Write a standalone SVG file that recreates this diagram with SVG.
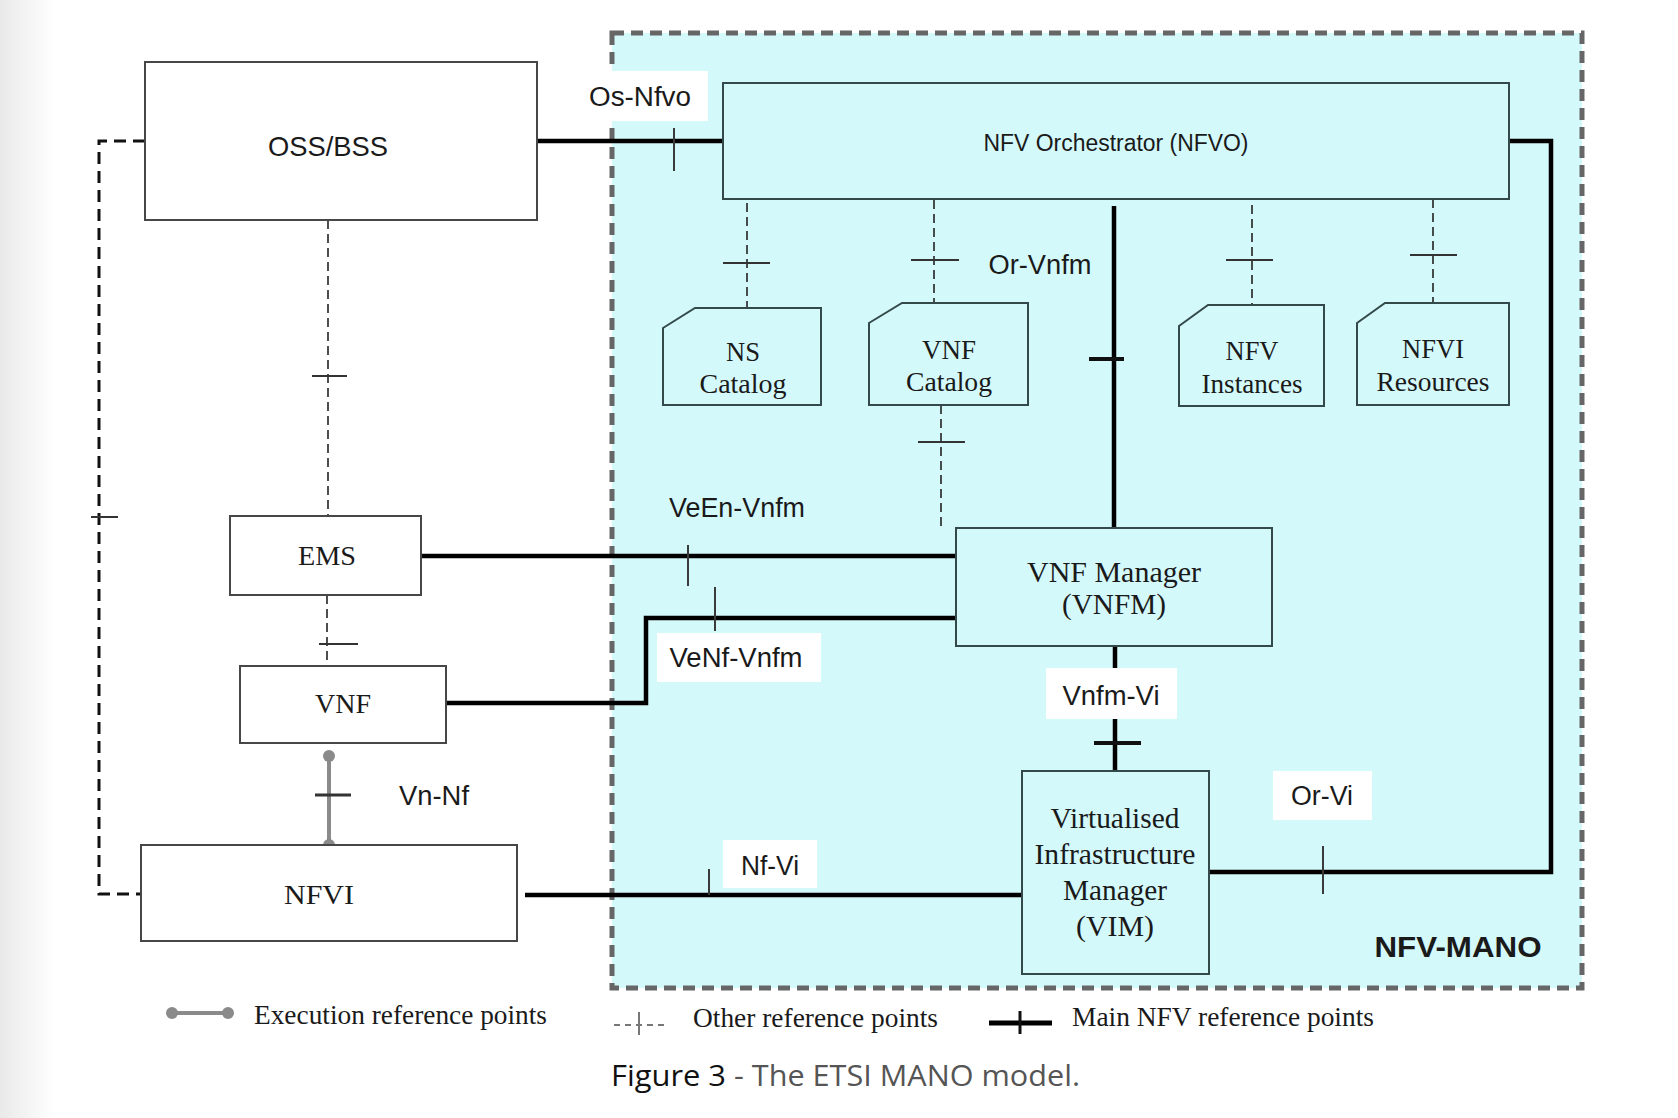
<svg xmlns="http://www.w3.org/2000/svg" width="1678" height="1118" viewBox="0 0 1678 1118">
<style>
.sans{font-family:"Liberation Sans",Arial,sans-serif;fill:#1a1a1a}
.serif{font-family:"Liberation Serif","Times New Roman",serif;fill:#1a1a1a}
.lbl{font-size:27px;text-anchor:middle}
.box{fill:#ffffff;stroke:#474747;stroke-width:2}
.mbox{fill:#d4f9fa;stroke:#34494a;stroke-width:2}
.main{fill:none;stroke:#000;stroke-width:4.5}
.tick{stroke:#3a3a3a;stroke-width:2}
.other{fill:none;stroke:#222;stroke-width:1.6;stroke-dasharray:9 5}
.otick{stroke:#333;stroke-width:2}
.bg{fill:#ffffff}
.cap{font-family:"Open Sans","Noto Sans",sans-serif;font-size:29px}
</style>
<defs>
<linearGradient id="edge" x1="0" y1="0" x2="1" y2="0">
<stop offset="0" stop-color="#e9e9e9"/>
<stop offset="1" stop-color="#ffffff"/>
</linearGradient>
</defs>
<rect x="0" y="0" width="1678" height="1118" fill="#ffffff"/>
<rect x="0" y="0" width="55" height="1118" fill="url(#edge)"/>

<g id="nfv-mano">
<rect x="612" y="33" width="970" height="955" fill="#d4f9fa" stroke="#666" stroke-width="5" stroke-dasharray="12 7"/>
<text class="sans" x="1458" y="957" font-size="30" font-weight="bold" text-anchor="middle" textLength="167" lengthAdjust="spacingAndGlyphs">NFV-MANO</text>
</g>

<g id="connectors">
<!-- OSS left dashed loop to NFVI -->
<path d="M145,141 H99 V894 H141" fill="none" stroke="#111" stroke-width="3" stroke-dasharray="12 7"/>
<line class="otick" x1="91" y1="517" x2="118" y2="517"/>
<!-- OSS to EMS -->
<line class="other" x1="328" y1="220" x2="328" y2="515"/>
<line class="otick" x1="312" y1="376" x2="347" y2="376"/>
<!-- EMS to VNF -->
<line class="other" x1="327" y1="595" x2="327" y2="666"/>
<line class="otick" x1="319" y1="644" x2="358" y2="644" stroke-width="3"/>
<!-- Os-Nfvo -->
<line class="main" x1="537" y1="141" x2="723" y2="141"/>
<line class="tick" x1="674" y1="128" x2="674" y2="171"/>
<!-- NFVO to catalogs -->
<line class="other" x1="747" y1="203" x2="747" y2="308"/>
<line class="otick" x1="723" y1="263" x2="770" y2="263"/>
<line class="other" x1="934" y1="200" x2="934" y2="303"/>
<line class="otick" x1="911" y1="260" x2="959" y2="260"/>
<line class="other" x1="1252" y1="205" x2="1252" y2="305"/>
<line class="otick" x1="1226" y1="260" x2="1273" y2="260"/>
<line class="other" x1="1433" y1="199" x2="1433" y2="303"/>
<line class="otick" x1="1410" y1="255" x2="1457" y2="255"/>
<!-- VNF catalog to VNFM area -->
<line class="other" x1="941" y1="405" x2="941" y2="527"/>
<line class="otick" x1="918" y1="442" x2="965" y2="442"/>
<!-- Or-Vnfm -->
<line class="main" x1="1114" y1="206" x2="1114" y2="528" stroke-width="3.5"/>
<line x1="1089" y1="359" x2="1124" y2="359" stroke="#111" stroke-width="4"/>
<!-- VeEn-Vnfm -->
<line class="main" x1="421" y1="556" x2="956" y2="556"/>
<line class="tick" x1="688" y1="545" x2="688" y2="586"/>
<!-- VeNf-Vnfm -->
<path class="main" d="M446,703 H646 V618 H956"/>
<line class="tick" x1="715" y1="587" x2="715" y2="631"/>
<!-- Vnfm-Vi -->
<line class="main" x1="1115" y1="646" x2="1115" y2="771"/>
<line x1="1094" y1="743" x2="1141" y2="743" stroke="#111" stroke-width="4"/>
<!-- Or-Vi -->
<path class="main" d="M1509,141 H1551 V872 H1209"/>
<line class="tick" x1="1323" y1="846" x2="1323" y2="894"/>
<!-- Nf-Vi -->
<line class="main" x1="525" y1="895" x2="1022" y2="895"/>
<line class="tick" x1="709" y1="869" x2="709" y2="895"/>
<!-- Vn-Nf execution -->
<line x1="329" y1="756" x2="329" y2="845" stroke="#8a8a8a" stroke-width="4"/>
<circle cx="329" cy="756" r="6" fill="#8a8a8a"/>
<circle cx="329" cy="845" r="6" fill="#8a8a8a"/>
<line x1="315" y1="795" x2="351" y2="795" stroke="#333" stroke-width="3"/>
</g>

<g id="labels">
<rect class="bg" x="579" y="71" width="129" height="50"/>
<text class="sans lbl" x="640" y="106" textLength="102" lengthAdjust="spacingAndGlyphs">Os-Nfvo</text>
<text class="sans lbl" x="1040" y="274" textLength="103" lengthAdjust="spacingAndGlyphs">Or-Vnfm</text>
<text class="sans lbl" x="737" y="517" textLength="136" lengthAdjust="spacingAndGlyphs">VeEn-Vnfm</text>
<rect class="bg" x="657" y="633" width="164" height="49"/>
<text class="sans lbl" x="736" y="667" textLength="133" lengthAdjust="spacingAndGlyphs">VeNf-Vnfm</text>
<rect class="bg" x="1046" y="668" width="131" height="51"/>
<text class="sans lbl" x="1111" y="705" textLength="97" lengthAdjust="spacingAndGlyphs">Vnfm-Vi</text>
<text class="sans lbl" x="434" y="805" textLength="70" lengthAdjust="spacingAndGlyphs">Vn-Nf</text>
<rect class="bg" x="723" y="840" width="94" height="48"/>
<text class="sans lbl" x="770" y="875" textLength="58" lengthAdjust="spacingAndGlyphs">Nf-Vi</text>
<rect class="bg" x="1273" y="771" width="99" height="49"/>
<text class="sans lbl" x="1322" y="805" textLength="62" lengthAdjust="spacingAndGlyphs">Or-Vi</text>
</g>

<g id="oss-bss">
<rect class="box" x="145" y="62" width="392" height="158"/>
<text class="sans" x="328" y="156" font-size="28" text-anchor="middle" textLength="120" lengthAdjust="spacingAndGlyphs">OSS/BSS</text>
</g>
<g id="nfvo">
<rect class="mbox" x="723" y="83" width="786" height="116"/>
<text class="sans" x="1116" y="151" font-size="23" text-anchor="middle" textLength="265" lengthAdjust="spacingAndGlyphs">NFV Orchestrator (NFVO)</text>
</g>
<g id="ns-catalog">
<path class="mbox" d="M663,328 L695,308 L821,308 L821,405 L663,405 Z"/>
<text class="serif" x="743" y="361" font-size="27" text-anchor="middle" textLength="34" lengthAdjust="spacingAndGlyphs">NS</text>
<text class="serif" x="743" y="393" font-size="27" text-anchor="middle" textLength="87" lengthAdjust="spacingAndGlyphs">Catalog</text>
</g>
<g id="vnf-catalog">
<path class="mbox" d="M869,323 L902,303 L1028,303 L1028,405 L869,405 Z"/>
<text class="serif" x="949" y="359" font-size="27" text-anchor="middle" textLength="54" lengthAdjust="spacingAndGlyphs">VNF</text>
<text class="serif" x="949" y="391" font-size="27" text-anchor="middle" textLength="86" lengthAdjust="spacingAndGlyphs">Catalog</text>
</g>
<g id="nfv-instances">
<path class="mbox" d="M1179,326 L1208,305 L1324,305 L1324,406 L1179,406 Z"/>
<text class="serif" x="1252" y="360" font-size="27" text-anchor="middle" textLength="53" lengthAdjust="spacingAndGlyphs">NFV</text>
<text class="serif" x="1252" y="393" font-size="27" text-anchor="middle" textLength="101" lengthAdjust="spacingAndGlyphs">Instances</text>
</g>
<g id="nfvi-resources">
<path class="mbox" d="M1357,323 L1385,303 L1509,303 L1509,405 L1357,405 Z"/>
<text class="serif" x="1433" y="358" font-size="27" text-anchor="middle" textLength="62" lengthAdjust="spacingAndGlyphs">NFVI</text>
<text class="serif" x="1433" y="391" font-size="27" text-anchor="middle" textLength="113" lengthAdjust="spacingAndGlyphs">Resources</text>
</g>
<g id="ems">
<rect class="box" x="230" y="516" width="191" height="79"/>
<text class="serif" x="327" y="565" font-size="28" text-anchor="middle" textLength="58" lengthAdjust="spacingAndGlyphs">EMS</text>
</g>
<g id="vnf">
<rect class="box" x="240" y="666" width="206" height="77"/>
<text class="serif" x="343" y="713" font-size="28" text-anchor="middle" textLength="56" lengthAdjust="spacingAndGlyphs">VNF</text>
</g>
<g id="nfvi">
<rect class="box" x="141" y="845" width="376" height="96"/>
<text class="serif" x="319" y="904" font-size="28" text-anchor="middle" textLength="70" lengthAdjust="spacingAndGlyphs">NFVI</text>
</g>
<g id="vnfm">
<rect class="mbox" x="956" y="528" width="316" height="118"/>
<text class="serif" x="1114" y="582" font-size="29" text-anchor="middle" textLength="174" lengthAdjust="spacingAndGlyphs">VNF Manager</text>
<text class="serif" x="1114" y="614" font-size="29" text-anchor="middle" textLength="104" lengthAdjust="spacingAndGlyphs">(VNFM)</text>
</g>
<g id="vim">
<rect class="mbox" x="1022" y="771" width="187" height="203"/>
<text class="serif" x="1115" y="828" font-size="29" text-anchor="middle" textLength="129" lengthAdjust="spacingAndGlyphs">Virtualised</text>
<text class="serif" x="1115" y="864" font-size="29" text-anchor="middle" textLength="161" lengthAdjust="spacingAndGlyphs">Infrastructure</text>
<text class="serif" x="1115" y="900" font-size="29" text-anchor="middle" textLength="104" lengthAdjust="spacingAndGlyphs">Manager</text>
<text class="serif" x="1115" y="936" font-size="29" text-anchor="middle" textLength="78" lengthAdjust="spacingAndGlyphs">(VIM)</text>
</g>

<g id="legend">
<line x1="172" y1="1013" x2="228" y2="1013" stroke="#8a8a8a" stroke-width="4"/>
<circle cx="172" cy="1013" r="6" fill="#8a8a8a"/>
<circle cx="228" cy="1013" r="6" fill="#8a8a8a"/>
<text class="serif" x="254" y="1024" font-size="27" textLength="293" lengthAdjust="spacingAndGlyphs">Execution reference points</text>
<line x1="614" y1="1025" x2="667" y2="1025" stroke="#777" stroke-width="2" stroke-dasharray="6 5"/>
<line x1="639" y1="1012" x2="639" y2="1035" stroke="#777" stroke-width="2"/>
<text class="serif" x="693" y="1027" font-size="27" textLength="245" lengthAdjust="spacingAndGlyphs">Other reference points</text>
<line x1="989" y1="1023" x2="1052" y2="1023" stroke="#000" stroke-width="5"/>
<line x1="1020" y1="1011" x2="1020" y2="1034" stroke="#111" stroke-width="3"/>
<text class="serif" x="1072" y="1026" font-size="27" textLength="302" lengthAdjust="spacingAndGlyphs">Main NFV reference points</text>
</g>

<g id="caption">
<text class="cap" x="611" y="1086" fill="#111" textLength="115" lengthAdjust="spacingAndGlyphs">Figure 3</text>
<text class="cap" x="734" y="1086" fill="#555" textLength="346" lengthAdjust="spacingAndGlyphs">- The ETSI MANO model.</text>
</g>
</svg>
